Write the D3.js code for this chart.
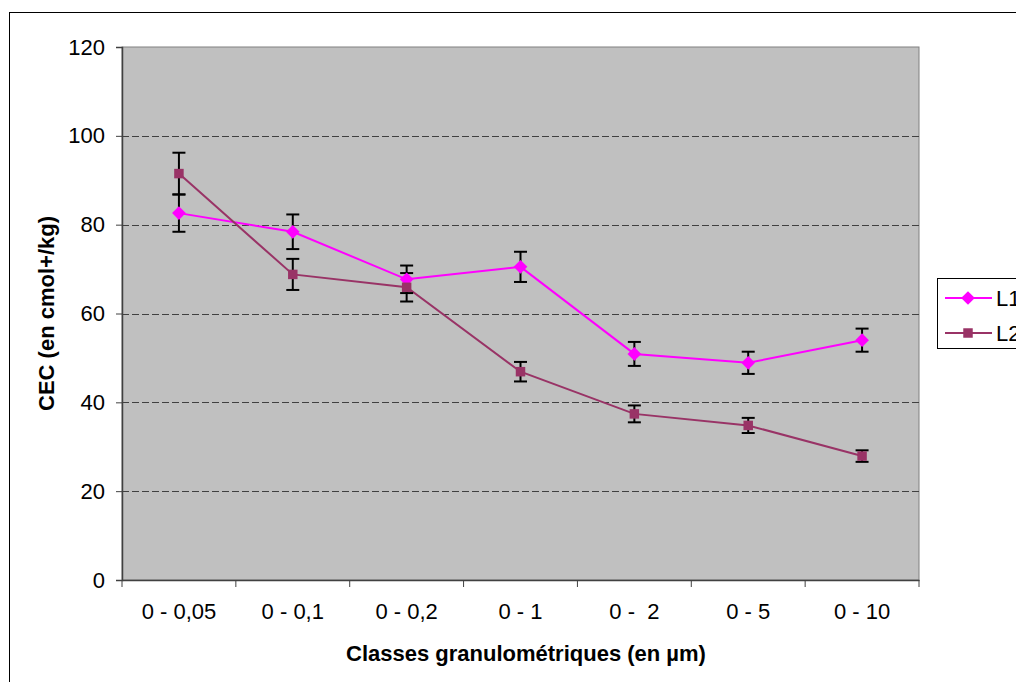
<!DOCTYPE html>
<html><head><meta charset="utf-8">
<script src="https://cdn.jsdelivr.net/npm/d3@7"></script>
<style>body{margin:0;background:#fff;}svg{display:block;font-family:"Liberation Sans",Arial,sans-serif;}</style>
</head><body>
<svg id="c" width="1016" height="682"></svg>
<script>
const categories = ["0 - 0,05","0 - 0,1","0 - 0,2","0 - 1","0 -  2","0 - 5","0 - 10"];
const l1Values = [82.6, 78.4, 67.7, 70.5, 50.9, 48.9, 54.0];
const l1Errors = [4.2, 3.9, 3.1, 3.4, 2.7, 2.5, 2.6];
const l2Values = [91.5, 68.8, 65.9, 46.9, 37.4, 34.8, 27.9];
const l2Errors = [4.7, 3.5, 3.2, 2.2, 1.9, 1.7, 1.3];
const yTicks = [0, 20, 40, 60, 80, 100, 120];
const seriesNames = ["L1", "L2"];

const svg = d3.select("#c");
const L = 122, R = 919, T = 47, B = 580;
const FS = 22;

// outer chart border
svg.append("rect").attr("x",9.5).attr("y",12.5).attr("width",1100).attr("height",800)
  .attr("fill","#fff").attr("stroke","#000").attr("stroke-width",1);

const x = d3.scaleBand().domain(categories).range([L,R]).padding(0);
const y = d3.scaleLinear().domain([0,120]).range([B,T]);

// plot area
svg.append("rect").attr("x",L).attr("y",T).attr("width",R-L).attr("height",B-T)
  .attr("fill","#c0c0c0").attr("stroke","#808080").attr("stroke-width",1);

// gridlines
svg.append("g").selectAll("line").data(yTicks.filter(d=>d>0 && d<120)).join("line")
  .attr("x1",L).attr("x2",R).attr("y1",d=>Math.round(y(d))+0.5).attr("y2",d=>Math.round(y(d))+0.5)
  .attr("stroke","#404040").attr("stroke-width",1).attr("stroke-dasharray","7,3");

// y axis
const yAxis = d3.axisLeft(y).tickValues(yTicks).tickSize(6).tickPadding(11);
const gy = svg.append("g").attr("transform",`translate(${L},0)`).call(yAxis);
gy.select(".domain").attr("stroke","#404040").attr("stroke-width",1.5);
gy.selectAll(".tick line").attr("stroke","#404040");
gy.selectAll(".tick text").attr("font-size",FS).attr("fill","#000").attr("font-family","Liberation Sans, Arial, sans-serif");

// x axis
const xAxis = d3.axisBottom(x).tickSize(0).tickPadding(23);
const gx = svg.append("g").attr("transform",`translate(0,${B})`).call(xAxis);
gx.select(".domain").attr("stroke","#404040").attr("stroke-width",1.5);
gx.selectAll(".tick text").attr("font-size",FS).attr("fill","#000").attr("font-family","Liberation Sans, Arial, sans-serif")
  .style("white-space","pre").attr("xml:space","preserve");
// category boundary ticks
const bounds = categories.map(c=>x(c)).concat([x(categories[categories.length-1])+x.bandwidth()]);
gx.selectAll(".btick").data(bounds).join("line").attr("class","btick")
  .attr("x1",d=>d).attr("x2",d=>d).attr("y1",0).attr("y2",7).attr("stroke","#404040");

// axis titles
svg.append("text").attr("x",526).attr("y",661).attr("text-anchor","middle")
  .attr("font-size",FS).attr("font-weight","bold").text("Classes granulométriques (en µm)");
svg.append("text").attr("transform",`translate(54,${(T+B)/2}) rotate(-90)`).attr("text-anchor","middle")
  .attr("font-size",FS).attr("font-weight","bold").text("CEC (en cmol+/kg)");

const cx = c => x(c) + x.bandwidth()/2;
const series = [
  {name:seriesNames[0], vals:l1Values, errs:l1Errors, color:"#ff00ff", marker:"diamond"},
  {name:seriesNames[1], vals:l2Values, errs:l2Errors, color:"#993366", marker:"square"}
];

const line = d3.line().x(d=>cx(d.c)).y(d=>y(d.v));
series.forEach(s=>{
  const pts = categories.map((c,i)=>({c, v:s.vals[i], e:s.errs[i]}));
  svg.append("path").datum(pts).attr("d",line).attr("fill","none").attr("stroke",s.color).attr("stroke-width",2);
  s.pts = pts;
});

// error bars
series.forEach(s=>{
  const g = svg.append("g").attr("stroke","#000").attr("stroke-width",2);
  s.pts.forEach(p=>{
    const X = cx(p.c);
    g.append("line").attr("x1",X).attr("x2",X).attr("y1",y(p.v+p.e)).attr("y2",y(p.v-p.e));
    g.append("line").attr("x1",X-6.5).attr("x2",X+6.5).attr("y1",y(p.v+p.e)).attr("y2",y(p.v+p.e));
    g.append("line").attr("x1",X-6.5).attr("x2",X+6.5).attr("y1",y(p.v-p.e)).attr("y2",y(p.v-p.e));
  });
});

// markers
const diamond = d3.symbol().type(d3.symbolDiamond2).size(120);
const square = d3.symbol().type(d3.symbolSquare).size(90);
series.forEach(s=>{
  svg.append("g").selectAll("path").data(s.pts).join("path")
    .attr("transform",d=>`translate(${cx(d.c)},${y(d.v)})`)
    .attr("d", s.marker==="diamond" ? diamond : square)
    .attr("fill",s.color);
});

// legend
const lg = svg.append("g");
lg.append("rect").attr("x",937.5).attr("y",278.5).attr("width",120).attr("height",70)
  .attr("fill","#fff").attr("stroke","#000").attr("stroke-width",1);
series.forEach((s,i)=>{
  const ly = 298 + i*35;
  lg.append("line").attr("x1",945).attr("x2",992).attr("y1",ly).attr("y2",ly).attr("stroke",s.color).attr("stroke-width",2);
  lg.append("path").attr("transform",`translate(968,${ly})`).attr("d", s.marker==="diamond"?diamond:square).attr("fill",s.color);
  lg.append("text").attr("x",996).attr("y",ly+8).attr("font-size",FS).text(s.name);
});
</script>
</body></html>
